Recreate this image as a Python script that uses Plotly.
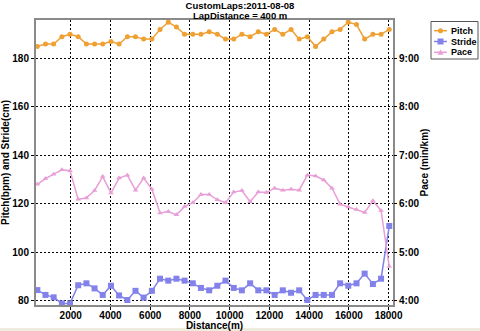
import plotly.graph_objects as go

distance_m = [320, 730, 1140, 1555, 1965, 2375, 2790, 3200, 3610, 4025, 4435, 4850, 5260, 5670,
              6085, 6495, 6910, 7320, 7730, 8145, 8555, 8970, 9380, 9790, 10205, 10615, 11030,
              11440, 11850, 12265, 12675, 13090, 13500, 13910, 14325, 14735, 15150, 15560,
              15970, 16385, 16795, 17210, 17620, 18035]

pitch_bpm = [185, 186, 186, 189, 190, 189, 186, 186, 186, 187, 186, 189, 189, 188, 188,
             192, 195, 193, 190, 190, 190, 191, 190, 188, 188, 190, 189, 191, 190, 192,
             190, 192, 188, 189, 185, 188, 191, 192, 195, 194, 188, 190, 190, 192]

stride_cm = [84.3, 82.3, 81.3, 78.8, 78.8, 86.3, 87.1, 85.0, 82.3, 86.1, 82.1, 80.2, 84.0,
             81.2, 84.0, 89.0, 88.2, 89.0, 88.2, 87.1, 85.2, 84.2, 86.1, 88.2, 85.2, 84.2,
             87.1, 84.2, 84.2, 82.3, 84.2, 83.2, 84.2, 80.2, 82.3, 82.3, 82.3, 87.1, 86.1,
             87.1, 91.1, 86.8, 89.0, 110.8]

pace_min_per_km = [6.40, 6.52, 6.61, 6.70, 6.68, 6.09, 6.12, 6.27, 6.56, 6.22, 6.53, 6.59,
                   6.28, 6.53, 6.30, 5.81, 5.84, 5.77, 5.94, 6.02, 6.19, 6.19, 6.08, 6.02,
                   6.24, 6.27, 6.04, 6.24, 6.23, 6.32, 6.28, 6.30, 6.28, 6.59, 6.57, 6.49,
                   6.32, 5.99, 5.93, 5.88, 5.82, 6.06, 5.86, 4.70]

series_names = ["Pitch", "Stride", "Pace"]
x_ticks = [2000, 4000, 6000, 8000, 10000, 12000, 14000, 16000, 18000]
left_ticks = [80, 100, 120, 140, 160, 180]
pace_ticks = [4, 5, 6, 7, 8, 9]
pace_labels = ["4:00", "5:00", "6:00", "7:00", "8:00", "9:00"]
title_line1 = "CustomLaps:2011-08-08"
title_line2 = "LapDistance = 400 m"

FONT = "Liberation Sans"
C_PITCH = "#EFA032"
C_STRIDE = "#8282EA"
C_PACE = "#E89ED6"
colors = [C_PITCH, C_STRIDE, C_PACE]
symbols = ["circle", "square", "triangle-up"]
sizes = [5, 6, 5]

W, H = 480, 331
ML, MR, MT, MB = 36, 87, 20, 26
PW, PH = W - ML - MR, H - MT - MB


def px(xpix):
    return (xpix - ML) / PW


def py(ypix):
    return (H - MB - ypix) / PH


fig = go.Figure()
for name, yvals, c, s, sz, ax in zip(series_names, [pitch_bpm, stride_cm, pace_min_per_km],
                                     colors, symbols, sizes, ["y", "y", "y2"]):
    fig.add_trace(go.Scatter(x=distance_m, y=yvals, name=name, mode="lines+markers",
                             yaxis=ax, showlegend=False,
                             line=dict(color=c, width=1.5),
                             marker=dict(symbol=s, size=sz, color=c)))

axis_font = dict(family=FONT, size=10, color="black", weight="bold")

# legend box drawn as layout decoration
shapes = [dict(type="rect", xref="paper", yref="paper", x0=-0.2, x1=1.4,
               y0=py(331), y1=py(328), fillcolor="#EFEBDD", line=dict(width=0),
               layer="below"),
          dict(type="rect", xref="paper", yref="paper", x0=px(431), x1=px(478),
               y0=py(59), y1=py(21.5), fillcolor="white",
               line=dict(color="#555555", width=1))]
annotations = [dict(text="<b>" + title_line2 + "</b>", xref="paper", yref="paper",
                    x=px(240), y=py(15.3), xanchor="center", yanchor="middle",
                    showarrow=False, borderpad=0,
                    font=dict(family=FONT, size=9.5, color="black"))]
for i, (name, c, s) in enumerate(zip(series_names, colors, symbols)):
    yc = 30.7 + i * 10.8
    shapes.append(dict(type="line", xref="paper", yref="paper", x0=px(434), x1=px(447),
                       y0=py(yc), y1=py(yc), line=dict(color=c, width=1.5)))
    cx = 440.5
    if s == "circle":
        shapes.append(dict(type="circle", xref="paper", yref="paper",
                           x0=px(cx - 2.5), x1=px(cx + 2.5), y0=py(yc + 2.5), y1=py(yc - 2.5),
                           fillcolor=c, line=dict(width=0)))
    elif s == "square":
        shapes.append(dict(type="rect", xref="paper", yref="paper",
                           x0=px(cx - 3), x1=px(cx + 3), y0=py(yc + 3), y1=py(yc - 3),
                           fillcolor=c, line=dict(width=0)))
    else:
        path = "M {} {} L {} {} L {} {} Z".format(px(cx - 3), py(yc + 2.5), px(cx + 3),
                                                  py(yc + 2.5), px(cx), py(yc - 3))
        shapes.append(dict(type="path", xref="paper", yref="paper", path=path,
                           fillcolor=c, line=dict(width=0)))
    annotations.append(dict(text="<b>" + name + "</b>", xref="paper", yref="paper",
                            x=px(450), y=py(yc), xanchor="left", yanchor="middle",
                            showarrow=False, borderpad=0,
                            font=dict(family=FONT, size=9, color="black")))

fig.update_layout(
    width=W, height=H,
    margin=dict(l=ML, r=MR, t=MT, b=MB, autoexpand=False),
    paper_bgcolor="white", plot_bgcolor="white",
    font=dict(family=FONT, size=10, color="black"),
    title=dict(text="<b>" + title_line1 + "</b>",
               x=0.5, xref="container", xanchor="center",
               y=1 - 5.3 / H, yref="container", yanchor="middle",
               font=dict(family=FONT, size=9.5, color="black")),
    showlegend=False,
    xaxis=dict(range=[252, 18222], tickvals=x_ticks, ticktext=[str(v) for v in x_ticks],
               showgrid=True, gridcolor="black", griddash="2px,2px", gridwidth=1,
               showline=True, linecolor="#8a8a8a", linewidth=2, mirror=True,
               ticks="outside", ticklen=3, tickcolor="black", automargin=False,
               ticklabelstandoff=-3,
               tickfont=axis_font, zeroline=False,
               title=dict(text="Distance(m)", font=axis_font, standoff=0)),
    yaxis=dict(range=[78.14, 195.9], tickvals=left_ticks,
               showgrid=True, gridcolor="black", griddash="2px,2px", gridwidth=1,
               showline=True, linecolor="#8a8a8a", linewidth=2, mirror=True,
               ticks="outside", ticklen=3, tickcolor="black", automargin=False,
               tickfont=axis_font, zeroline=False,
               title=dict(text="Pitch(bpm) and Stride(cm)", font=axis_font, standoff=4)),
    yaxis2=dict(range=[3.907, 9.795], overlaying="y", side="right",
                tickvals=pace_ticks, ticktext=pace_labels, showgrid=False,
                ticks="outside", ticklen=3, tickcolor="black", automargin=False,
                tickfont=axis_font, zeroline=False, showline=False,
                title=dict(text="Pace (min/km)", font=axis_font, standoff=1)),
    shapes=shapes,
    annotations=annotations,
)

fig.write_html("out.html")
